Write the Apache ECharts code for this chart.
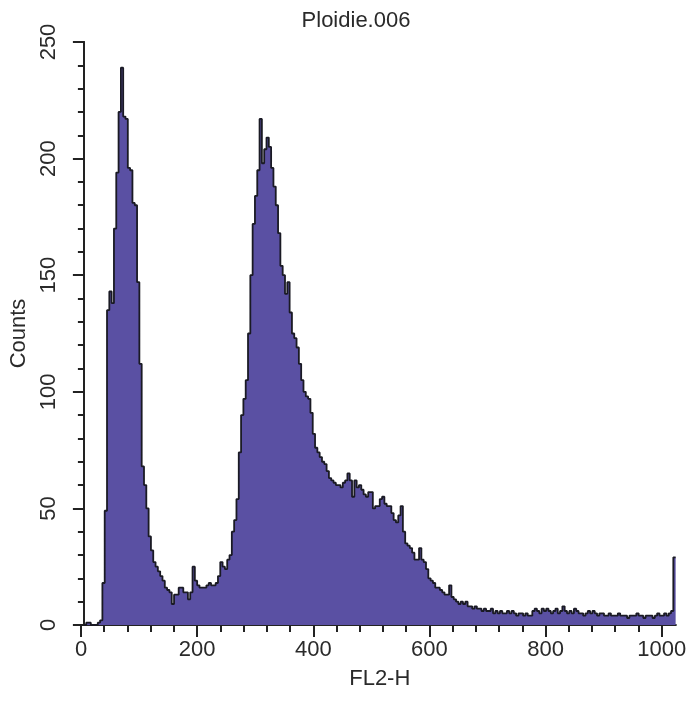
<!DOCTYPE html>
<html>
<head>
<meta charset="utf-8">
<style>
html,body{margin:0;padding:0;background:#fff;}
#chart{width:691px;height:709px;}
</style>
<script src="https://cdn.jsdelivr.net/npm/echarts@6/dist/echarts.min.js"></script>
</head>
<body>
<div id="chart"></div>
<script>
// Histogram channel counts, bin width 4 channels (0..1024)
const binWidth = 4;
const counts = [
  0,1,1,0,0,0,1,2,18,49,
  135,143,138,170,194,220,239,218,217,196,
  195,181,180,147,112,68,60,50,38,32,
  27,25,23,21,19,16,15,14,9,13,
  13,16,16,14,14,11,14,25,19,17,
  16,16,16,17,18,17,17,18,21,27,
  25,24,28,30,40,45,54,74,90,97,
  105,125,150,172,184,195,217,198,204,209,
  205,196,188,180,168,154,150,142,147,134,
  125,123,119,112,105,100,98,97,91,82,
  76,74,72,70,69,66,63,62,61,60,
  60,59,61,62,65,62,55,62,59,60,
  58,56,55,57,57,50,51,51,54,55,
  52,51,51,48,45,44,47,51,40,35,
  34,33,31,28,28,33,28,27,24,20,
  19,18,16,16,15,14,13,13,17,12,
  11,10,9,10,9,10,8,8,7,8,
  7,7,6,7,6,6,7,5,6,5,
  6,5,5,6,5,6,5,4,5,5,
  4,5,4,4,6,7,6,5,7,6,
  7,6,5,6,7,5,6,8,6,5,
  6,5,7,6,5,5,4,5,6,5,
  6,5,4,5,5,4,4,5,4,4,
  4,5,4,4,4,3,4,4,4,5,
  4,4,3,4,4,4,3,4,5,4,
  4,5,4,5,6,29
];
const xMax = 1024;
const yMax = 250;
const xTickMax = 1000;
const xInterval = 200;
const yInterval = 50;
const titleText = 'Ploidie.006';
const xName = 'FL2-H';
const yName = 'Counts';

(function () {
const points = counts.map((c, i) => [i * binWidth, c]);
points.push([xMax, counts[counts.length - 1]]);

const axisColor = '#222222';
const textColor = '#2a2a2a';
const font = 'Liberation Sans, Arial, Helvetica, sans-serif';
const pxPerUnit = 0.5807;
const gLeft = 81, gTop = 42, gBottom = 84;

const chart = echarts.init(document.getElementById('chart'), null, {renderer: 'canvas'});
chart.setOption({
  backgroundColor: '#ffffff',
  animation: false,
  title: {
    text: titleText,
    left: 351, top: 5, textAlign: 'center',
    textStyle: {fontFamily: font, fontSize: 22, fontWeight: 'normal', color: textColor}
  },
  grid: [
    {left: gLeft, top: gTop, bottom: gBottom, width: xMax * pxPerUnit},
    {left: gLeft, top: gTop, bottom: gBottom, width: xTickMax * pxPerUnit}
  ],
  xAxis: [
    {
      gridIndex: 0, type: 'value', min: 0, max: xMax, position: 'bottom',
      axisLine: {show: true, lineStyle: {color: axisColor, width: 2}},
      axisTick: {show: false}, axisLabel: {show: false}, splitLine: {show: false},
      name: xName, nameLocation: 'middle', nameGap: 43,
      nameTextStyle: {fontFamily: font, fontSize: 22, color: textColor}
    },
    {
      gridIndex: 0, type: 'value', min: 0, max: xMax, position: 'top',
      axisLine: {show: true, lineStyle: {color: axisColor, width: 2}},
      axisTick: {show: false}, axisLabel: {show: false}, splitLine: {show: false}
    },
    {
      gridIndex: 1, type: 'value', min: 0, max: xTickMax, interval: xInterval, position: 'bottom',
      axisLine: {show: false},
      axisTick: {show: true, inside: false, length: 12, lineStyle: {color: axisColor, width: 2}},
      minorTick: {show: true, splitNumber: 5, length: 7, lineStyle: {color: axisColor, width: 2}},
      axisLabel: {show: true, margin: 14, fontFamily: font, fontSize: 22, color: textColor,
                  formatter: v => String(v)},
      splitLine: {show: false}
    }
  ],
  yAxis: [
    {
      gridIndex: 0, type: 'value', min: 0, max: yMax, interval: yInterval,
      axisLine: {show: true, lineStyle: {color: axisColor, width: 2}},
      axisTick: {show: true, inside: false, length: 11, lineStyle: {color: axisColor, width: 2}},
      minorTick: {show: true, splitNumber: 5, length: 6, lineStyle: {color: axisColor, width: 2}},
      axisLabel: {show: true, rotate: 90, margin: 24, fontFamily: font, fontSize: 22, color: textColor,
                  formatter: v => String(v)},
      splitLine: {show: false},
      name: yName, nameLocation: 'middle', nameGap: 48, nameRotate: 90,
      nameTextStyle: {fontFamily: font, fontSize: 22, color: textColor}
    },
    {
      gridIndex: 0, type: 'value', min: 0, max: yMax, position: 'right',
      axisLine: {show: true, lineStyle: {color: axisColor, width: 2}},
      axisTick: {show: false}, axisLabel: {show: false}, splitLine: {show: false}
    },
    {gridIndex: 1, type: 'value', min: 0, max: yMax, show: false}
  ],
  series: [{
    type: 'line',
    xAxisIndex: 0, yAxisIndex: 0,
    step: 'end',
    data: points,
    symbol: 'none',
    lineStyle: {color: '#1a1a24', width: 1.8},
    areaStyle: {color: '#5a50a3', opacity: 1}
  }]
});
})();
</script>
</body>
</html>
